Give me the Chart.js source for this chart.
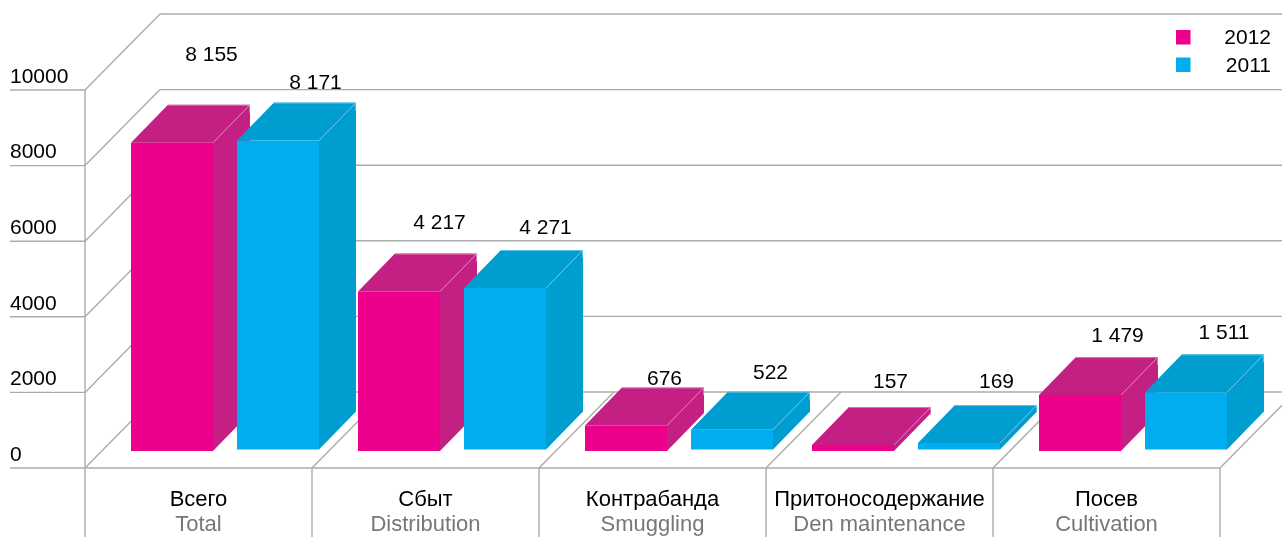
<!DOCTYPE html>
<html>
<head>
<meta charset="utf-8">
<style>html,body{margin:0;padding:0;background:#fff}canvas{display:block}</style>
<script src="https://cdn.jsdelivr.net/npm/chart.js@4/dist/chart.umd.js"></script>
</head>
<body>
<canvas id="c" width="1282" height="537"></canvas>
<script>
const categoriesRu = ['Всего', 'Сбыт', 'Контрабанда', 'Притоносодержание', 'Посев'];
const categoriesEn = ['Total', 'Distribution', 'Smuggling', 'Den maintenance', 'Cultivation'];
const values2012 = [8155, 4217, 676, 157, 1479];
const values2011 = [8171, 4271, 522, 169, 1511];
const seriesNames = ['2012', '2011'];

// Styling only
const FONT = 'Arial, "Liberation Sans", sans-serif';
const PINK = '#EC008C', PINK_D = '#C41F82', BLUE = '#00AEEF', BLUE_D = '#009DD0';
const LINE = '#ABABAB';
const DEPTH_X = 37, DEPTH_Y = 38;       // bar depth
const WALL_X = 75, WALL_Y = 76;         // room depth
const SHIFT = 26.5;                     // bars sit right of the category centre
const labelLift = [[87.5, 68, 46, 63, 59], [57, 60, 57, 61, 59]];
const labelRight = [[39.5, 40.5, 38.5, 37.5, 37.5], [37.5, 40.5, 38.5, 37.5, 38]];

const fmt = v => String(v).replace(/\B(?=(\d{3})+$)/g, ' ');

function face(ctx, pts, fill) {
  ctx.beginPath();
  pts.forEach((p, i) => i ? ctx.lineTo(p[0], p[1]) : ctx.moveTo(p[0], p[1]));
  ctx.closePath();
  ctx.fillStyle = fill;
  ctx.fill();
}

const room = {
  id: 'room',
  beforeDatasetsDraw(chart) {
    const { ctx, scales: { x, y } } = chart;
    const half = (x.getPixelForValue(1) - x.getPixelForValue(0)) / 2;
    const n = categoriesRu.length;
    const left = x.getPixelForValue(0) - half - SHIFT;
    const right = x.getPixelForValue(n - 1) + half - SHIFT;
    const y0 = y.getPixelForValue(0);
    ctx.save();
    ctx.strokeStyle = LINE;
    ctx.lineWidth = 1.4;
    const seg = (a, b, c, d) => { ctx.beginPath(); ctx.moveTo(a, b); ctx.lineTo(c, d); ctx.stroke(); };
    y.ticks.forEach(t => {
      const py = y.getPixelForValue(t.value);
      seg(10, py, left, py);
      seg(left, py, left + WALL_X, py - WALL_Y);
      seg(left + WALL_X, py - WALL_Y, chart.width, py - WALL_Y);
    });
    seg(left, y.getPixelForValue(y.max), left, chart.height);
    seg(left, y0, right, y0);
    for (let i = 1; i <= n; i++) {
      const px = x.getPixelForValue(i - 1) + half - SHIFT;
      seg(px, y0, px, chart.height);
      seg(px, y0, px + WALL_X, y0 - WALL_Y);
    }
    // Side and top faces of every bar, built from the bar elements
    [0, 1].forEach(d => {
      const dark = d ? BLUE_D : PINK_D;
      const edge = d ? 'rgba(120,205,235,.75)' : 'rgba(235,140,195,.75)';
      chart.getDatasetMeta(d).data.forEach(b => {
        const l = b.x - b.width / 2, r = b.x + b.width / 2;
        face(ctx, [[r, b.y], [r + DEPTH_X, b.y - DEPTH_Y], [r + DEPTH_X, b.base - DEPTH_Y], [r, b.base]], dark);
        face(ctx, [[l, b.y], [l + DEPTH_X, b.y - DEPTH_Y], [r + DEPTH_X, b.y - DEPTH_Y], [r, b.y]], dark);
        ctx.strokeStyle = edge;
        ctx.lineWidth = 1;
        ctx.beginPath();
        ctx.moveTo(l + DEPTH_X, b.y - DEPTH_Y + .5);
        ctx.lineTo(r + DEPTH_X - .5, b.y - DEPTH_Y + .5);
        ctx.lineTo(r + DEPTH_X - .5, b.y - DEPTH_Y + 8);
        ctx.moveTo(r, b.y);
        ctx.lineTo(r + DEPTH_X - .5, b.y - DEPTH_Y + .5);
        ctx.stroke();
      });
    });
    ctx.restore();
  },
  afterDatasetsDraw(chart) {
    const { ctx } = chart;
    ctx.save();
    ctx.font = '21px ' + FONT;
    ctx.fillStyle = '#000';
    ctx.textAlign = 'center';
    ctx.textBaseline = 'middle';
    [0, 1].forEach(d => {
      chart.getDatasetMeta(d).data.forEach((b, i) => {
        ctx.fillText(fmt(chart.data.datasets[d].data[i]), b.x + labelRight[d][i], b.y - labelLift[d][i]);
      });
    });
    // Legend
    const ly = [37.5, 65];
    chart.data.datasets.forEach((ds, d) => {
      ctx.fillStyle = ds.backgroundColor;
      ctx.fillRect(1176, ly[d] - 7.5, 14.5, 14.5);
      ctx.fillStyle = '#000';
      ctx.textAlign = 'right';
      ctx.fillText(ds.label, 1271, ly[d] + 1);
    });
    ctx.restore();
  }
};

new Chart(document.getElementById('c'), {
  type: 'bar',
  data: {
    labels: categoriesRu,
    datasets: [
      { label: seriesNames[0], data: values2012, backgroundColor: PINK, yAxisID: 'yPink' },
      { label: seriesNames[1], data: values2011, backgroundColor: BLUE, yAxisID: 'yBlue' }
    ]
  },
  options: {
    responsive: false,
    animation: false,
    events: [],
    categoryPercentage: 0.934,
    barPercentage: 0.7736,
    layout: { autoPadding: false, padding: { left: 10, right: 35.5, top: 90, bottom: 0 } },
    plugins: { legend: { display: false }, tooltip: { enabled: false } },
    scales: {
      x: {
        grid: { display: false, drawTicks: false },
        border: { display: false },
        afterFit: s => { s.height = 42; },
        ticks: {
          autoSkip: false, maxRotation: 0, minRotation: 0, padding: 19, labelOffset: -SHIFT,
          color: '#000', font: { family: FONT, size: 22 }
        }
      },
      x2: {
        type: 'category',
        labels: categoriesEn,
        position: 'bottom',
        grid: { display: false, drawTicks: false },
        border: { display: false },
        afterFit: s => { s.height = 27; },
        ticks: {
          autoSkip: false, maxRotation: 0, minRotation: 0, padding: 2, labelOffset: -SHIFT,
          color: '#777', font: { family: FONT, size: 22 }
        }
      },
      y: {
        position: 'left',
        min: 0, max: 10000,
        grid: { display: false, drawTicks: false },
        border: { display: false },
        afterFit: s => { s.width = 101.5; },
        ticks: {
          stepSize: 2000, crossAlign: 'far', labelOffset: -13, padding: 0,
          color: '#000', font: { family: FONT, size: 21 },
          callback: v => String(v)
        }
      },
      yPink: { display: false, min: -450, max: 9550 },
      yBlue: { display: false, min: -490, max: 9510 }
    }
  },
  plugins: [room]
});
</script>
</body>
</html>
